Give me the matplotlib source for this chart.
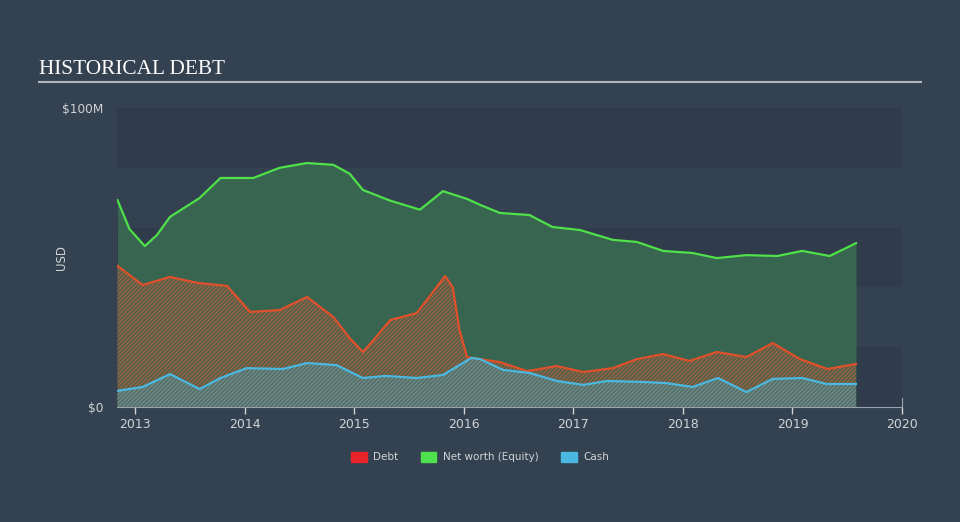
import matplotlib
matplotlib.use("Agg")
import matplotlib.pyplot as plt
from matplotlib.patches import Patch

# data (year as decimal, values in $M)
eq_x = [2012.84, 2012.95, 2013.09, 2013.20, 2013.32, 2013.59, 2013.78, 2014.08, 2014.32,
        2014.57, 2014.81, 2014.96, 2015.08, 2015.33, 2015.60, 2015.72, 2015.81, 2016.03,
        2016.15, 2016.33, 2016.60, 2016.81, 2017.06, 2017.36, 2017.58, 2017.82, 2018.09,
        2018.31, 2018.58, 2018.86, 2019.09, 2019.34, 2019.58]
eq_y = [69.2, 59.5, 53.8, 57.5, 63.6, 69.9, 76.6, 76.6, 80.0,
        81.6, 81.0, 78.0, 72.6, 69.0, 66.0, 69.5, 72.2, 69.6,
        67.6, 64.9, 64.2, 60.2, 59.2, 55.9, 55.2, 52.2, 51.5,
        49.8, 50.8, 50.5, 52.2, 50.5, 54.8]

debt_x = [2012.84, 2013.07, 2013.32, 2013.57, 2013.84, 2014.05, 2014.32, 2014.57, 2014.81,
          2014.96, 2015.08, 2015.18, 2015.33, 2015.57, 2015.72, 2015.83, 2015.90, 2015.96,
          2016.03, 2016.33, 2016.58, 2016.85, 2017.09, 2017.36, 2017.58, 2017.82, 2018.06,
          2018.31, 2018.58, 2018.82, 2019.07, 2019.32, 2019.58]
debt_y = [47.2, 40.8, 43.5, 41.5, 40.5, 31.8, 32.4, 36.8, 30.1,
          23.0, 18.4, 22.5, 29.1, 31.4, 38.5, 43.8, 40.0, 26.0,
          16.7, 15.0, 12.0, 13.7, 11.7, 13.0, 16.0, 17.7, 15.4,
          18.4, 16.7, 21.4, 16.0, 12.7, 14.4]

cash_x = [2012.84, 2013.07, 2013.32, 2013.59, 2013.78, 2014.02, 2014.35, 2014.57, 2014.84,
          2015.08, 2015.29, 2015.57, 2015.81, 2016.07, 2016.15, 2016.36, 2016.60, 2016.85,
          2017.09, 2017.31, 2017.61, 2017.85, 2018.09, 2018.32, 2018.58, 2018.82, 2019.09,
          2019.31, 2019.58]
cash_y = [5.4, 6.7, 11.0, 6.0, 9.7, 13.0, 12.7, 14.7, 14.0,
          9.7, 10.4, 9.7, 10.7, 16.4, 16.0, 12.4, 11.4, 8.7,
          7.4, 8.7, 8.4, 8.0, 6.7, 9.7, 5.0, 9.4, 9.7,
          7.7, 7.7]

years = [2013, 2014, 2015, 2016, 2017, 2018, 2019, 2020]

bg = '#344150'
band = '#303c4b'
grey = '#d0d3d6'

plt.rcParams['hatch.linewidth'] = 0.55

fig = plt.figure(figsize=(9.6, 5.22), dpi=100, facecolor=bg)
ax = fig.add_axes([0.1219, 0.2203, 0.8177, 0.5728])
ax.set_facecolor(bg)

# horizontal bands
for lo in [0, 40, 80]:
    ax.axhspan(lo, lo + 20, color=band, lw=0, zorder=0)

ax.fill_between(eq_x, 0, eq_y, color='#386550', lw=0, zorder=1)
ax.plot(eq_x, eq_y, color='#4fe04a', lw=1.6, zorder=5, solid_joinstyle='round')

ax.fill_between(debt_x, 0, debt_y, facecolor='#58604a', edgecolor='#b8633e',
                hatch='////////', lw=0, zorder=2)
ax.plot(debt_x, debt_y, color='#e0502a', lw=1.6, zorder=5, solid_joinstyle='round')

ax.fill_between(cash_x, 0, cash_y, facecolor='#56716b', edgecolor='#7f9a94',
                hatch='////////', lw=0, zorder=3)
ax.plot(cash_x, cash_y, color='#4ab8e0', lw=1.6, zorder=5, solid_joinstyle='round')

ax.set_xlim(2012.836, 2020)
ax.set_ylim(0, 100)
ax.set_xticks(years)
ax.set_xticklabels([str(y) for y in years])
ax.set_yticks([0, 100])
ax.set_yticklabels(['$0', '$100M'])
ax.tick_params(axis='x', colors=grey, labelsize=9, length=5, width=1, pad=3)
ax.tick_params(axis='y', colors=grey, labelsize=8.7, length=0, pad=10)
for s in ['top', 'left']:
    ax.spines[s].set_visible(False)
ax.spines['bottom'].set_color('#9aa3ad')
ax.spines['right'].set_color('#9aa3ad')
ax.spines['right'].set_bounds(0, 3)
ax.set_ylabel('USD', color=grey, fontsize=8.5)
ax.yaxis.set_label_coords(-0.063, 0.5)

fig.text(39 / 960, 1 - 74 / 522, 'HISTORICAL DEBT', color='white', fontsize=15.3,
         family='Liberation Serif', va='baseline')
fig.add_artist(plt.Line2D([39 / 960, 921 / 960], [1 - 82 / 522, 1 - 82 / 522],
                          color='#b0b5bb', lw=1.5))

handles = [Patch(color='#e8242b', label='Debt'),
           Patch(color='#4fe04f', label='Net worth (Equity)'),
           Patch(color='#4ab8e0', label='Cash')]
leg = fig.legend(handles=handles, loc='center', bbox_to_anchor=(0.5, 1 - 457 / 522),
                 ncol=3, frameon=False, fontsize=7.5, handlelength=1.5,
                 handleheight=1.1, columnspacing=2.2, handletextpad=0.6)
for t in leg.get_texts():
    t.set_color(grey)

fig.savefig('out.png', dpi=100, facecolor=bg)
